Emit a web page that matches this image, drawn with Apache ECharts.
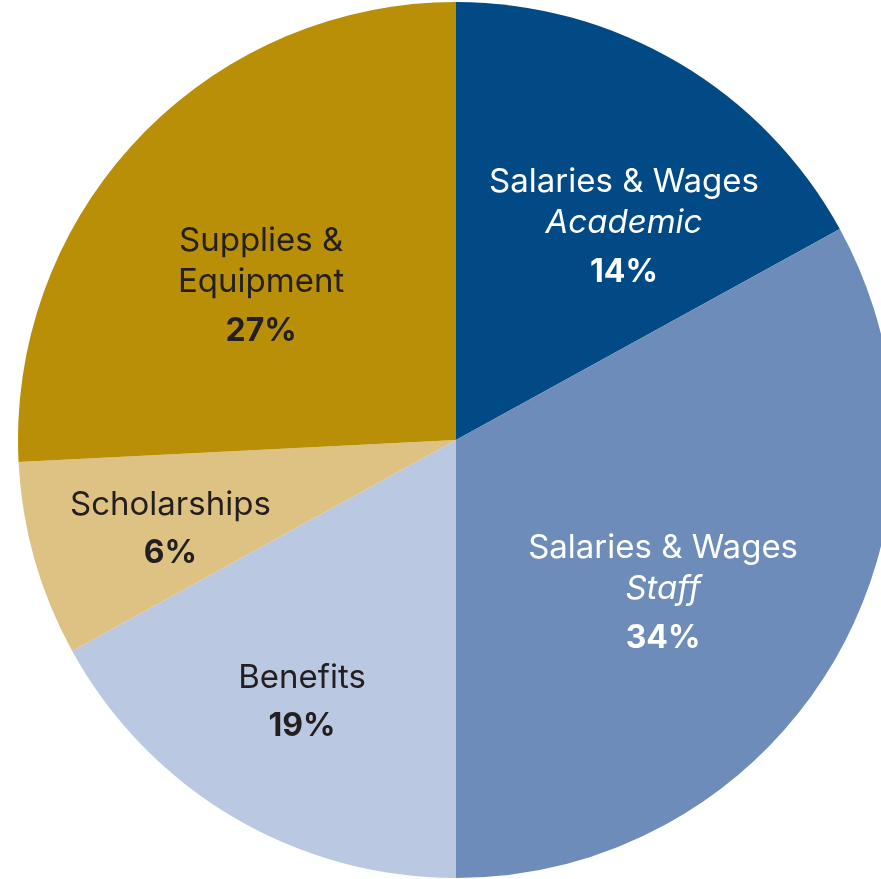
<!DOCTYPE html>
<html>
<head>
<meta charset="utf-8">
<script src="https://cdn.jsdelivr.net/npm/echarts@6/dist/echarts.min.js"></script>
<style>
html,body{margin:0;padding:0;background:#fff;}
#chart{width:881px;height:879px;}
</style>
</head>
<body>
<div id="chart"></div>
<script>
const names = ["Salaries & Wages", "Salaries & Wages", "Benefits", "Scholarships", "Supplies &\nEquipment"];
const subNames = ["Academic", "Staff", "", "", ""];
const shares = [17, 33, 17, 7.2, 25.8];
const pctLabels = ["14%", "34%", "19%", "6%", "27%"];

// Styling (kept separate from data)
const colors = ["#024a85", "#6d8cb9", "#bbc8e1", "#dec283", "#b98f08"];
const textColors = ["#ffffff", "#ffffff", "#231f20", "#231f20", "#231f20"];
const labelOffsets = [[55, -18], [16, 44], [-41, 75], [-72, 32], [-34, 3]];

const FONT = "Inter";
const FS = 33;

const chart = echarts.init(document.getElementById('chart'), null, {renderer: 'canvas'});

const data = shares.map((v, i) => {
  const c = textColors[i];
  let fmt = names[i].split("\n").map(s => "{n|" + s + "}").join("\n");
  if (subNames[i]) fmt += "\n{s|" + subNames[i] + "}";
  fmt += "\n{p|" + pctLabels[i] + "}";
  return {
    value: v,
    name: names[i].replace("\n", " ") + (subNames[i] ? " " + subNames[i] : ""),
    itemStyle: {color: colors[i]},
    label: {
      show: true,
      position: 'inside',
      offset: labelOffsets[i],
      formatter: fmt,
      rich: {
        n: {fontFamily: FONT, fontSize: FS, color: c, lineHeight: 41, align: 'center'},
        s: {fontFamily: FONT, fontSize: FS, fontStyle: 'italic', color: c, lineHeight: 41, align: 'center'},
        p: {fontFamily: FONT, fontSize: FS - 1, fontWeight: 'bold', color: c, lineHeight: 56, align: 'center'}
      }
    }
  };
});

chart.setOption({
  animation: false,
  backgroundColor: '#ffffff',
  series: [{
    type: 'pie',
    center: [456, 440],
    radius: [0, 438],
    startAngle: 90,
    clockwise: true,
    avoidLabelOverlap: false,
    labelLine: {show: false},
    itemStyle: {borderWidth: 0},
    emphasis: {disabled: true},
    data: data
  }]
});
</script>
</body>
</html>
